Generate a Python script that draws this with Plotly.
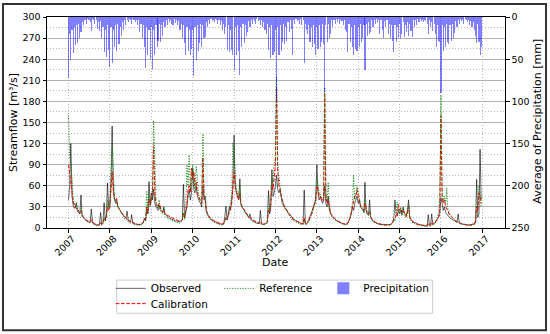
import plotly.graph_objects as go

# ---------------- data (10-day steps) ----------------
years = list(range(2007, 2017))
month_days = ["01-01", "01-11", "01-21", "02-01", "02-11", "02-21", "03-01", "03-11", "03-21",
              "04-01", "04-11", "04-21", "05-01", "05-11", "05-21", "06-01", "06-11", "06-21",
              "07-01", "07-11", "07-21", "08-01", "08-11", "08-21", "09-01", "09-11", "09-21",
              "10-01", "10-11", "10-21", "11-01", "11-11", "11-21", "12-01", "12-11", "12-21"]
dates = [f"{y}-{md}" for y in years for md in month_days]

# Observed streamflow [m3/s]
observed = (
    [40, 60, 120, 45, 32, 28, 30, 36, 24, 22, 20, 47, 17, 15, 13, 11, 10, 9, 8, 8, 27, 7, 6, 5, 5, 4, 4, 5, 22, 5, 8, 36, 12, 18, 64, 30]      # 2007
    + [35, 70, 145, 50, 40, 35, 38, 30, 28, 24, 22, 20, 18, 16, 14, 24, 10, 9, 8, 19, 7, 6, 6, 5, 5, 5, 4, 5, 6, 8, 14, 10, 25, 20, 66, 35]  # 2008
    + [50, 40, 55, 35, 30, 28, 25, 32, 26, 24, 22, 30, 20, 18, 16, 15, 14, 13, 12, 12, 11, 10, 10, 9, 9, 9, 10, 12, 62, 15, 22, 30, 45, 55, 40, 50]  # 2009
    + [85, 55, 50, 60, 45, 40, 38, 35, 30, 60, 40, 45, 25, 20, 16, 14, 12, 11, 10, 9, 8, 8, 7, 6, 6, 5, 5, 6, 15, 31, 12, 20, 30, 25, 40, 55]  # 2010
    + [132, 60, 50, 45, 40, 70, 35, 30, 28, 25, 22, 20, 18, 15, 20, 12, 10, 9, 8, 8, 7, 7, 6, 25, 6, 5, 5, 6, 7, 8, 53, 20, 30, 83, 45, 50]  # 2011
    + [60, 75, 55, 50, 55, 40, 35, 32, 30, 28, 25, 22, 20, 18, 16, 14, 12, 11, 10, 9, 8, 8, 7, 6, 6, 54, 6, 6, 8, 12, 15, 20, 25, 30, 35, 40]  # 2012
    + [90, 50, 40, 45, 38, 35, 40, 60, 35, 30, 45, 25, 20, 18, 16, 14, 12, 11, 10, 9, 8, 8, 7, 6, 6, 5, 6, 8, 10, 15, 20, 30, 25, 35, 40, 45]  # 2013
    + [35, 40, 30, 28, 25, 22, 65, 25, 20, 18, 40, 15, 12, 10, 9, 8, 7, 6, 6, 5, 5, 5, 4, 4, 4, 4, 4, 4, 5, 6, 8, 15, 40, 20, 18, 25]  # 2014
    + [20, 25, 18, 30, 22, 20, 18, 25, 40, 15, 12, 10, 9, 8, 7, 6, 6, 5, 5, 4, 4, 4, 3, 3, 3, 19, 4, 4, 20, 5, 6, 8, 10, 12, 15, 20]  # 2015
    + [43, 35, 25, 30, 22, 20, 18, 15, 14, 13, 12, 11, 10, 9, 8, 20, 7, 6, 6, 5, 5, 5, 4, 4, 4, 4, 4, 5, 6, 5, 8, 69, 15, 20, 112, 40]  # 2016
)

# Calibration simulation [m3/s]
calibration = (
    [90, 75, 60, 50, 38, 32, 30, 28, 25, 22, 20, 24, 18, 16, 14, 12, 11, 10, 9, 9, 12, 8, 7, 6, 5, 5, 4, 5, 8, 5, 7, 14, 10, 14, 30, 25]
    + [30, 55, 80, 55, 42, 38, 42, 30, 28, 25, 22, 20, 17, 15, 14, 14, 11, 10, 9, 10, 8, 7, 6, 6, 5, 5, 5, 5, 6, 8, 12, 12, 30, 22, 40, 32]
    + [40, 50, 116, 50, 35, 32, 30, 35, 28, 25, 23, 26, 20, 19, 18, 17, 16, 15, 14, 14, 13, 12, 12, 11, 10, 10, 10, 11, 20, 14, 25, 35, 55, 60, 50, 85]
    + [70, 80, 60, 65, 50, 45, 40, 38, 35, 100, 45, 40, 25, 20, 17, 15, 13, 12, 11, 10, 9, 8, 7, 7, 6, 6, 5, 6, 10, 15, 12, 18, 25, 30, 35, 60]
    + [80, 60, 50, 45, 40, 50, 35, 30, 28, 26, 23, 21, 18, 16, 15, 13, 12, 11, 10, 9, 8, 8, 7, 8, 6, 6, 5, 6, 7, 8, 25, 22, 35, 60, 55, 70]
    + [90, 200, 80, 60, 55, 45, 40, 35, 30, 28, 25, 22, 20, 17, 15, 13, 12, 11, 10, 9, 8, 8, 7, 6, 6, 15, 6, 6, 8, 10, 15, 18, 22, 28, 32, 38]
    + [60, 55, 45, 45, 40, 38, 40, 190, 45, 35, 40, 28, 22, 18, 16, 14, 12, 11, 10, 9, 8, 8, 7, 6, 6, 5, 5, 7, 10, 15, 22, 30, 40, 45, 45, 55]
    + [45, 40, 32, 30, 28, 25, 35, 28, 22, 20, 22, 16, 12, 10, 9, 8, 7, 7, 6, 6, 5, 5, 5, 4, 4, 4, 4, 4, 5, 6, 8, 12, 12, 18, 16, 33]
    + [25, 28, 22, 25, 20, 18, 16, 22, 30, 15, 12, 10, 8, 7, 6, 6, 5, 5, 4, 4, 4, 3, 3, 3, 3, 6, 3, 4, 8, 5, 6, 8, 10, 12, 16, 25]
    + [160, 45, 35, 40, 30, 28, 25, 20, 18, 16, 14, 12, 11, 10, 9, 8, 7, 7, 6, 6, 5, 5, 5, 4, 4, 4, 4, 5, 6, 6, 10, 30, 25, 50, 45, 35]
)

# Reference simulation [m3/s]
reference = (
    [160, 100, 95, 55, 42, 35, 32, 34, 28, 24, 21, 28, 17, 14, 12, 10, 9, 8, 7, 7, 10, 6, 5, 4, 4, 3, 3, 4, 7, 4, 6, 15, 10, 16, 40, 28]
    + [28, 60, 114, 68, 45, 36, 40, 32, 28, 24, 21, 19, 15, 13, 12, 12, 9, 8, 7, 8, 6, 5, 5, 4, 4, 4, 4, 4, 5, 7, 12, 10, 53, 20, 50, 30]
    + [38, 45, 153, 84, 38, 30, 28, 40, 26, 22, 20, 28, 17, 15, 14, 13, 12, 11, 10, 10, 9, 9, 8, 8, 7, 7, 8, 10, 22, 12, 30, 90, 60, 104, 55, 70]
    + [90, 70, 55, 88, 60, 48, 42, 40, 36, 134, 48, 42, 23, 18, 15, 13, 11, 10, 9, 8, 7, 7, 6, 5, 5, 4, 4, 5, 9, 14, 11, 20, 28, 35, 45, 121]
    + [110, 70, 55, 50, 42, 60, 36, 30, 27, 24, 21, 19, 16, 14, 13, 11, 10, 9, 8, 8, 7, 6, 6, 7, 5, 5, 4, 5, 6, 7, 28, 25, 45, 70, 65, 90]
    + [100, 215, 90, 70, 57, 45, 40, 34, 29, 26, 23, 20, 18, 15, 13, 11, 10, 9, 8, 7, 7, 6, 5, 5, 5, 12, 5, 5, 7, 9, 14, 17, 22, 30, 35, 42]
    + [70, 60, 48, 50, 42, 40, 45, 200, 50, 38, 65, 30, 20, 16, 14, 12, 11, 10, 9, 8, 7, 7, 6, 5, 5, 5, 4, 6, 9, 14, 25, 35, 76, 40, 50, 60]
    + [50, 45, 30, 28, 26, 22, 40, 26, 20, 18, 25, 14, 11, 9, 8, 7, 6, 6, 5, 5, 4, 4, 4, 4, 3, 3, 3, 4, 4, 5, 7, 12, 10, 20, 37, 25]
    + [22, 30, 20, 28, 18, 16, 15, 20, 32, 13, 10, 8, 7, 6, 5, 5, 4, 4, 4, 3, 3, 3, 3, 2, 2, 5, 3, 3, 6, 4, 5, 7, 12, 15, 20, 40]
    + [189, 50, 38, 45, 35, 57, 28, 22, 19, 17, 15, 13, 11, 10, 9, 8, 7, 6, 6, 5, 5, 5, 4, 4, 4, 3, 3, 4, 5, 5, 9, 25, 30, 60, 50, 30]
)

# Average precipitation [mm]
precipitation = (
    [72, 20, 51, 15, 43, 12, 33, 10, 31, 8, 25, 18, 6, 10, 4, 3, 8, 2, 3, 6, 16, 2, 4, 8, 3, 14, 6, 16, 5, 25, 12, 41, 15, 47, 10, 39]   # 2007
    + [59, 12, 55, 15, 35, 10, 40, 8, 32, 12, 22, 6, 15, 4, 10, 3, 6, 2, 3, 8, 2, 4, 6, 3, 10, 4, 18, 8, 25, 10, 36, 61, 12, 45, 15, 50]  # 2008
    + [12, 62, 15, 45, 10, 35, 28, 8, 30, 10, 22, 6, 12, 4, 9, 2, 6, 3, 8, 10, 2, 7, 3, 10, 5, 15, 8, 25, 10, 31, 45, 12, 40, 15, 45, 38]  # 2009
    + [15, 70, 12, 51, 10, 40, 31, 8, 35, 10, 25, 24, 6, 12, 3, 8, 2, 5, 3, 6, 2, 4, 8, 3, 10, 5, 15, 8, 20, 12, 39, 10, 42, 15, 39, 45]  # 2010
    + [63, 12, 45, 10, 40, 69, 12, 35, 8, 31, 10, 22, 18, 5, 12, 3, 8, 2, 5, 8, 2, 5, 3, 10, 4, 12, 6, 15, 20, 8, 39, 12, 49, 10, 45, 42]  # 2011
    + [15, 100, 12, 45, 10, 40, 30, 8, 32, 12, 28, 6, 18, 4, 14, 45, 3, 8, 2, 5, 3, 8, 2, 10, 4, 55, 8, 15, 20, 10, 30, 12, 35, 10, 32, 45]  # 2012
    + [12, 38, 10, 35, 30, 8, 32, 90, 10, 30, 8, 25, 20, 4, 12, 3, 8, 2, 6, 2, 8, 3, 5, 10, 4, 15, 18, 41, 8, 30, 12, 35, 45, 10, 38, 40]  # 2013
    + [12, 35, 8, 30, 25, 10, 63, 8, 22, 6, 20, 18, 4, 12, 3, 8, 2, 6, 3, 20, 4, 15, 25, 5, 12, 4, 20, 8, 25, 10, 28, 41, 10, 30, 12, 25]  # 2014
    + [8, 25, 20, 6, 24, 10, 18, 6, 22, 8, 16, 24, 4, 12, 3, 10, 2, 6, 2, 5, 4, 6, 3, 5, 8, 20, 4, 12, 6, 16, 8, 20, 35, 10, 28, 30]  # 2015
    + [90, 10, 40, 12, 35, 8, 30, 32, 10, 28, 8, 25, 19, 5, 12, 3, 8, 2, 5, 3, 8, 2, 4, 6, 3, 10, 5, 12, 6, 15, 22, 31, 8, 30, 45, 35]  # 2016
)

year_ticks = [f"{y}-01-01" for y in range(2007, 2018)]
year_labels = [str(y) for y in range(2007, 2018)]
flow_ticks = list(range(0, 301, 30))
precip_ticks = list(range(0, 251, 50))

# ---------------- figure ----------------
FONT = "DejaVu Sans"
DAY_MS = 86400000

fig = go.Figure()

fig.add_trace(go.Scatter(x=dates, y=observed, name="Observed", mode="lines",
                         line=dict(color="rgba(0,0,0,0.6)", width=1), legend="legend"))
fig.add_trace(go.Scatter(x=dates, y=calibration, name="Calibration", mode="lines",
                         line=dict(color="red", width=1, dash="3.7px,1.6px"), legend="legend2"))
fig.add_trace(go.Scatter(x=dates, y=reference, name="Reference", mode="lines",
                         line=dict(color="green", width=1, dash="1px,1.6px"), legend="legend3"))
fig.add_trace(go.Bar(x=dates, y=precipitation, name="Precipitation", yaxis="y2",
                     width=10 * DAY_MS, marker=dict(color="rgba(0,0,255,0.5)", line=dict(width=0)),
                     legend="legend4"))

L, R, T, B = 47, 45, 17, 105.5
W, H = 550, 334
pw, ph = W - L - R, H - T - B


def px_x(x):
    return (x - L) / pw


def px_y(y):
    return (H - B - y) / ph


def legend_at(xpx, ypx):
    return dict(orientation="h", x=px_x(xpx), y=px_y(ypx), xanchor="left", yanchor="middle",
                font=dict(size=10.5), bgcolor="rgba(0,0,0,0)", borderwidth=0, itemwidth=30)


fig.update_layout(
    width=W, height=H,
    margin=dict(l=L, r=R, t=T, b=B, autoexpand=False),
    paper_bgcolor="white", plot_bgcolor="white",
    font=dict(family=FONT, size=10, color="black"),
    showlegend=True,
    bargap=0,
    xaxis=dict(
        type="date",
        range=["2006-06-25", "2017-07-19"],
        tickvals=year_ticks, ticktext=year_labels, tickangle=-45,
        tickfont=dict(size=9.5), ticklabelstandoff=-3, ticklabelshift=4,
        ticks="outside", ticklen=3.5, tickcolor="black",
        showline=True, linecolor="black", linewidth=1, mirror=True,
        showgrid=True, gridcolor="#b8b8b8", gridwidth=1, griddash="1px,2px",
        zeroline=False,
    ),
    yaxis=dict(
        range=[0, 300], tickvals=flow_ticks,
        tickfont=dict(size=9.5),
        ticks="outside", ticklen=3.5, tickcolor="black",
        showline=True, linecolor="black", linewidth=1, mirror=True,
        showgrid=True, gridcolor="#b0b0b0", gridwidth=1,
        minor=dict(dtick=15, tick0=0, showgrid=True, gridcolor="#b8b8b8",
                   griddash="1px,2px", gridwidth=1, ticks=""),
        zeroline=False,
        title=dict(text="Streamflow [m³/s]", font=dict(size=11), standoff=2),
    ),
    yaxis2=dict(
        overlaying="y", side="right",
        range=[250, 0], tickvals=precip_ticks,
        tickfont=dict(size=9.5),
        ticks="outside", ticklen=3.5, tickcolor="black",
        showline=True, linecolor="black", linewidth=1,
        showgrid=False, zeroline=False,
    ),
    legend=legend_at(110.7, 289),
    legend2=legend_at(110.7, 304.3),
    legend3=legend_at(219.3, 289),
    legend4=legend_at(323.3, 289),
    annotations=[
        dict(text="Date", xref="paper", yref="paper", x=px_x(275), y=px_y(263),
             xanchor="center", yanchor="middle", showarrow=False, font=dict(size=11)),
        dict(text="Average of Precipitation [mm]", xref="paper", yref="paper",
             x=px_x(538), y=px_y(122), xanchor="center", yanchor="middle",
             textangle=-90, showarrow=False, font=dict(size=11)),
    ],
    shapes=[
        # legend frame
        dict(type="rect", xref="paper", yref="paper",
             x0=px_x(116.7), x1=px_x(432.7), y0=px_y(314), y1=px_y(280.7),
             line=dict(color="#cccccc", width=1), fillcolor="rgba(0,0,0,0)", layer="below"),
        # outer figure frame
        dict(type="rect", xref="paper", yref="paper",
             x0=px_x(3), x1=px_x(546), y0=px_y(331), y1=px_y(4),
             line=dict(color="#333333", width=2), fillcolor="rgba(0,0,0,0)", layer="above"),
    ],
)

fig.write_html("out.html", config={"displayModeBar": False},
               post_script="document.body.style.margin='0';")
